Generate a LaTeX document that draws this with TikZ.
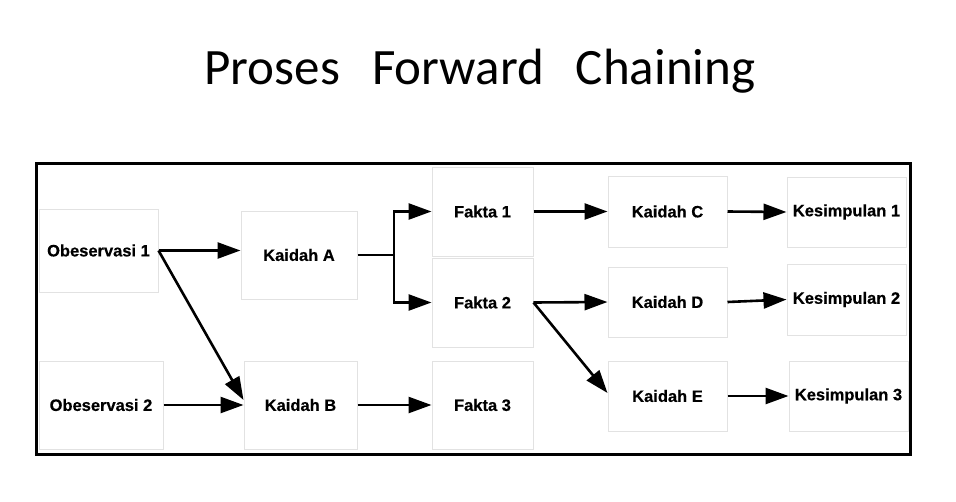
\documentclass[tikz,border=0pt]{standalone}
\usepackage{fontspec}
\setmainfont{Liberation Sans}[BoldFeatures={FakeBold=0.5}]
\newfontfamily\titlefont{Carlito}
\usetikzlibrary{arrows.meta}
\definecolor{boxgray}{RGB}{226,226,226}
\tikzset{
  box/.style={draw=boxgray, line width=1pt, rectangle, inner sep=0pt,
    font=\fontsize{16.5}{19}\selectfont\bfseries, text=black},
  arr/.style={line width=2.6pt, -{Triangle[length=23pt,width=16pt]}},
  conn/.style={line width=2.6pt}
}
\begin{document}
\begin{tikzpicture}[x=1pt,y=-1pt]
\useasboundingbox (0,0) rectangle (956,501);
\fill[white] (0,0) rectangle (956,501);
% title
\node[anchor=base, inner sep=0pt, font=\titlefont\fontsize{51}{60}\selectfont] (title) at (480,84)
  {Proses\hspace{32pt}Forward\hspace{32pt}Chaining};
% frame
\draw[line width=3pt] (36,163) rectangle (910,454);
% boxes
\node[box, minimum width=119pt, minimum height=83pt] (o1) at (98.5,250.5) {Obeservasi 1};
\node[box, minimum width=124pt, minimum height=88pt] (o2) at (101,405) {Obeservasi 2};
\node[box, minimum width=116pt, minimum height=88pt] (ka) at (299,255) {Kaidah A};
\node[box, minimum width=113pt, minimum height=88pt] (kb) at (300.5,405) {Kaidah B};
\node[box, minimum width=101pt, minimum height=89pt] (f1) at (482.5,211.5) {Fakta 1};
\node[box, minimum width=101pt, minimum height=89pt] (f2) at (482.5,302.5) {Fakta 2};
\node[box, minimum width=101pt, minimum height=88pt] (f3) at (482.5,405) {Fakta 3};
\node[box, minimum width=119pt, minimum height=71pt] (kc) at (667.5,211.5) {Kaidah C};
\node[box, minimum width=119pt, minimum height=70pt] (kd) at (667.5,302) {Kaidah D};
\node[box, minimum width=119pt, minimum height=70pt] (ke) at (667.5,396) {Kaidah E};
\node[box, minimum width=119pt, minimum height=70pt] (k1) at (846.5,212) {Kesimpulan 1};
\node[box, minimum width=119pt, minimum height=71pt] (k2) at (846.5,299.5) {Kesimpulan 2};
\node[box, minimum width=119pt, minimum height=70pt] (k3) at (848.5,396) {Kesimpulan 3};
% connectors
\draw[arr] (o1.east) -- (ka.west |- o1.east);
\draw[arr] (o1.east) -- ([yshift=5pt]kb.west);
\draw[arr] (o2.east) -- (kb.west);
\coordinate (fk) at (394,255);
\draw[conn] (ka.east) -- (fk);
\draw[arr] (fk) |- (f1.west);
\draw[arr] (fk) |- (f2.west);
\draw[arr] (kb.east) -- (f3.west);
\draw[arr] (f1.east) -- (kc.west);
\draw[arr] (f2.east) -- (kd.west);
\draw[arr] (f2.east) -- ([yshift=3pt]ke.west);
\draw[arr] (kc.east) -- (k1.west);
\draw[arr] (kd.east) -- (k2.west);
\draw[arr] (ke.east) -- (k3.west);
\end{tikzpicture}
\end{document}
